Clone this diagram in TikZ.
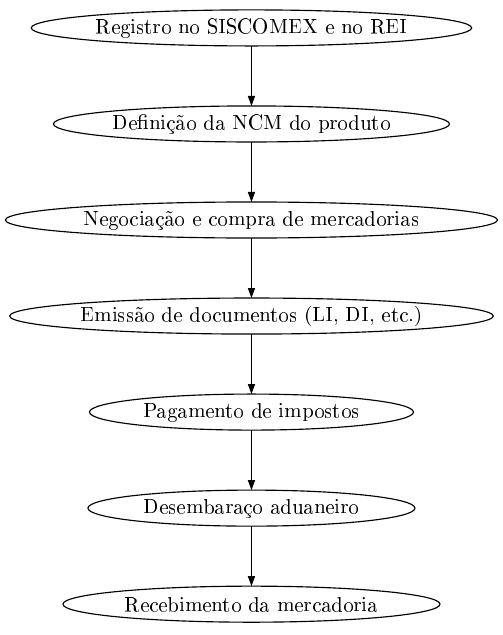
\documentclass[tikz,border=0pt]{standalone}
\usepackage[T1]{fontenc}
\usepackage{tikz}
\usetikzlibrary{arrows.meta,positioning,shapes.geometric}

\begin{document}
\begin{tikzpicture}[
    etapa/.style={ellipse, draw=black, line width=0.55pt, inner sep=0pt, outer sep=0pt, minimum height=17.3pt, font=\normalsize},
    seta/.style={-{Triangle[length=4.8pt,width=3.4pt]}, line width=0.55pt, black},
    node distance=28.8pt
]
\useasboundingbox (0pt,0pt) rectangle (241.4pt,-304.8pt);

\node[etapa, minimum width=207.8pt] (reg) at (120.7pt,-13.4pt) {Registro no SISCOMEX e no REI};
\node[etapa, minimum width=190.1pt, below=of reg] (ncm) {Definição da NCM do produto};
\node[etapa, minimum width=236.2pt, below=of ncm] (neg) {Negociação e compra de mercadorias};
\node[etapa, minimum width=231.8pt, below=of neg] (doc) {Emissão de documentos (LI, DI, etc.)};
\node[etapa, minimum width=155.5pt, below=of doc] (imp) {Pagamento de impostos};
\node[etapa, minimum width=157.0pt, below=of imp] (des) {Desembaraço aduaneiro};
\node[etapa, minimum width=181.0pt, below=of des] (rec) {Recebimento da mercadoria};

\draw[seta] (reg) -- (ncm);
\draw[seta] (ncm) -- (neg);
\draw[seta] (neg) -- (doc);
\draw[seta] (doc) -- (imp);
\draw[seta] (imp) -- (des);
\draw[seta] (des) -- (rec);

\end{tikzpicture}
\end{document}
